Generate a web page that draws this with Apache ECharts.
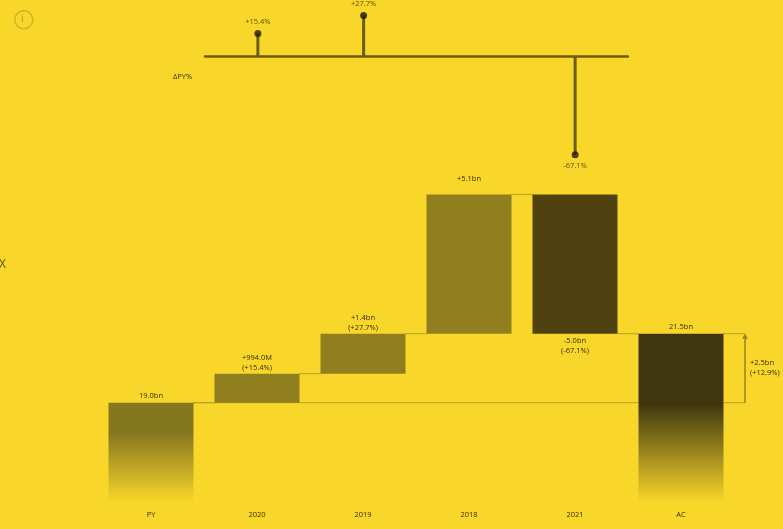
<!DOCTYPE html>
<html>
<head>
<meta charset="utf-8">
<script src="https://cdn.jsdelivr.net/npm/echarts@6/dist/echarts.min.js"></script>
<style>html,body{margin:0;padding:0;background:#F8D72A}#c{width:783px;height:529px}</style>
</head>
<body>
<div id="c"></div>
<script>
const categories = ['PY','2020','2019','2018','2021','AC'];
const baseValues = ['-',19.0,20.05,21.5,21.5,'-'];
const totalValues = [19.0,'-','-','-','-',21.5];
const increaseValues = ['-',1.05,1.45,5.05,'-','-'];
const decreaseValues = ['-','-','-','-',5.05,'-'];
const barLabels = ['19.0bn','+994.0M\n(+15.4%)','+1.4bn\n(+27.7%)','+5.1bn\n ','-5.0bn\n(-67.1%)','21.5bn'];
const connectorLevels = [[0,19.0],[1,20.05],[2,21.5],[3,26.55],[4,21.5]];
const pyLevel = 19.0, acLevel = 21.5;
const deltaLabel = ['+2.5bn','(+12.9%)'];
const deltaCategories = ['2020','2019','2018','2021'];
const deltaValues = [15.4,27.7,'-',-67.1];
const deltaText = ['+15.4%','+27.7%','','-67.1%'];

const BG='#F8D72A', OLIVE='#8F7F1E', DARK='#4F4210', INK='#352d08', LINE='#b5a021', ARROW='#97861f';
const font='"Open Sans","Noto Sans",sans-serif';
const fade=(c,stop)=>({type:'linear',x:0,y:0,x2:0,y2:1,colorStops:[{offset:0,color:c},{offset:stop,color:c},{offset:1,color:BG}]});

const chart=echarts.init(document.getElementById('c'),null,{renderer:'canvas'});
const labelStyle={fontSize:7.5,color:INK,fontFamily:font,lineHeight:10};
chart.setOption({
  animation:false,
  backgroundColor:BG,
  grid:[
    {left:98,width:636,top:182,height:320},
    {left:205,width:423,top:12,height:147}
  ],
  xAxis:[
    {type:'category',gridIndex:0,data:categories,axisLine:{show:false},axisTick:{show:false},
     axisLabel:{fontSize:7.5,color:INK,fontFamily:font,margin:9}},
    {type:'category',gridIndex:1,data:deltaCategories,axisTick:{show:false},axisLabel:{show:false},
     axisLine:{onZero:true,lineStyle:{color:'#6b5c12',width:2.5}}}
  ],
  yAxis:[
    {type:'value',gridIndex:0,min:15.4,max:27,show:false,splitLine:{show:false}},
    {type:'value',gridIndex:1,min:-70,max:30,show:false,splitLine:{show:false}}
  ],
  series:[
    {type:'bar',stack:'w',barWidth:85,data:baseValues,itemStyle:{color:'transparent'},silent:true},
    {type:'bar',stack:'w',barWidth:85,data:totalValues.map((v,i)=>v==='-'?v:{value:v,itemStyle:{color:i===0?fade('#857620',0.3):fade('#3f3610',0.42)}}),
     label:{show:true,position:'top',distance:2,formatter:p=>barLabels[p.dataIndex],...labelStyle}},
    {type:'bar',stack:'w',barWidth:85,data:increaseValues,itemStyle:{color:OLIVE},
     label:{show:true,position:'top',distance:1,formatter:p=>barLabels[p.dataIndex],...labelStyle}},
    {type:'bar',stack:'w',barWidth:85,data:decreaseValues,itemStyle:{color:DARK},
     label:{show:true,position:'bottom',distance:2,formatter:p=>barLabels[p.dataIndex],...labelStyle}},
    {type:'custom',coordinateSystem:'cartesian2d',clip:false,silent:true,z:1,
     data:connectorLevels,
     renderItem:(params,api)=>{
       const a=api.coord([api.value(0),api.value(1)]);
       const b=api.coord([api.value(0)+1,api.value(1)]);
       return {type:'line',shape:{x1:a[0]+42,y1:a[1],x2:b[0]-42,y2:b[1]},style:{stroke:LINE,lineWidth:1}};
     }},
    {type:'custom',coordinateSystem:'cartesian2d',clip:false,silent:true,z:1,
     data:[[5,pyLevel,acLevel]],
     renderItem:(params,api)=>{
       const lo=api.coord([api.value(0),api.value(1)]);
       const hi=api.coord([api.value(0),api.value(2)]);
       const py=api.coord([0,api.value(1)]);
       const x=lo[0]+64;
       return {type:'group',children:[
         {type:'line',shape:{x1:py[0]+42,y1:lo[1],x2:x,y2:lo[1]},style:{stroke:LINE,lineWidth:1}},
         {type:'line',shape:{x1:hi[0]+42,y1:hi[1],x2:x,y2:hi[1]},style:{stroke:LINE,lineWidth:1}},
         {type:'line',shape:{x1:x,y1:lo[1],x2:x,y2:hi[1]+1},style:{stroke:ARROW,lineWidth:1.5}},
         {type:'polygon',shape:{points:[[x-3,hi[1]+5],[x+3,hi[1]+5],[x,hi[1]]]},style:{fill:ARROW}},
         {type:'text',x:x+5,y:(lo[1]+hi[1])/2-10,style:{text:deltaLabel.join('\n'),fontSize:7.5,lineHeight:10,fill:INK,fontFamily:font}}
       ]};
     }},
    {type:'bar',xAxisIndex:1,yAxisIndex:1,barWidth:3,data:deltaValues,itemStyle:{color:'#6b5c12'}},
    {type:'scatter',xAxisIndex:1,yAxisIndex:1,symbolSize:7,z:5,
     data:deltaValues.map(v=>v==='-'?v:(v<0?{value:v,label:{position:'bottom'}}:v)),
     itemStyle:{color:'#1e1905'},
     label:{show:true,fontSize:7.5,color:INK,fontFamily:font,distance:4,position:'top',formatter:p=>deltaText[p.dataIndex]}}
  ],
  graphic:[
    {type:'circle',left:14,top:10,shape:{r:9},style:{fill:'transparent',stroke:'#cdb52c',lineWidth:1.5}},
    {type:'text',left:21,top:13,style:{text:'i',fontSize:11,fill:'#b8a022',fontFamily:font}},
    {type:'text',left:173,top:73,style:{text:'ΔPY%',fontSize:7.5,fill:INK,fontFamily:font}},
    {type:'text',left:-1,top:259,style:{text:'X',fontSize:12,fill:'#55500f',fontFamily:font}}
  ]
});
</script>
</body>
</html>
